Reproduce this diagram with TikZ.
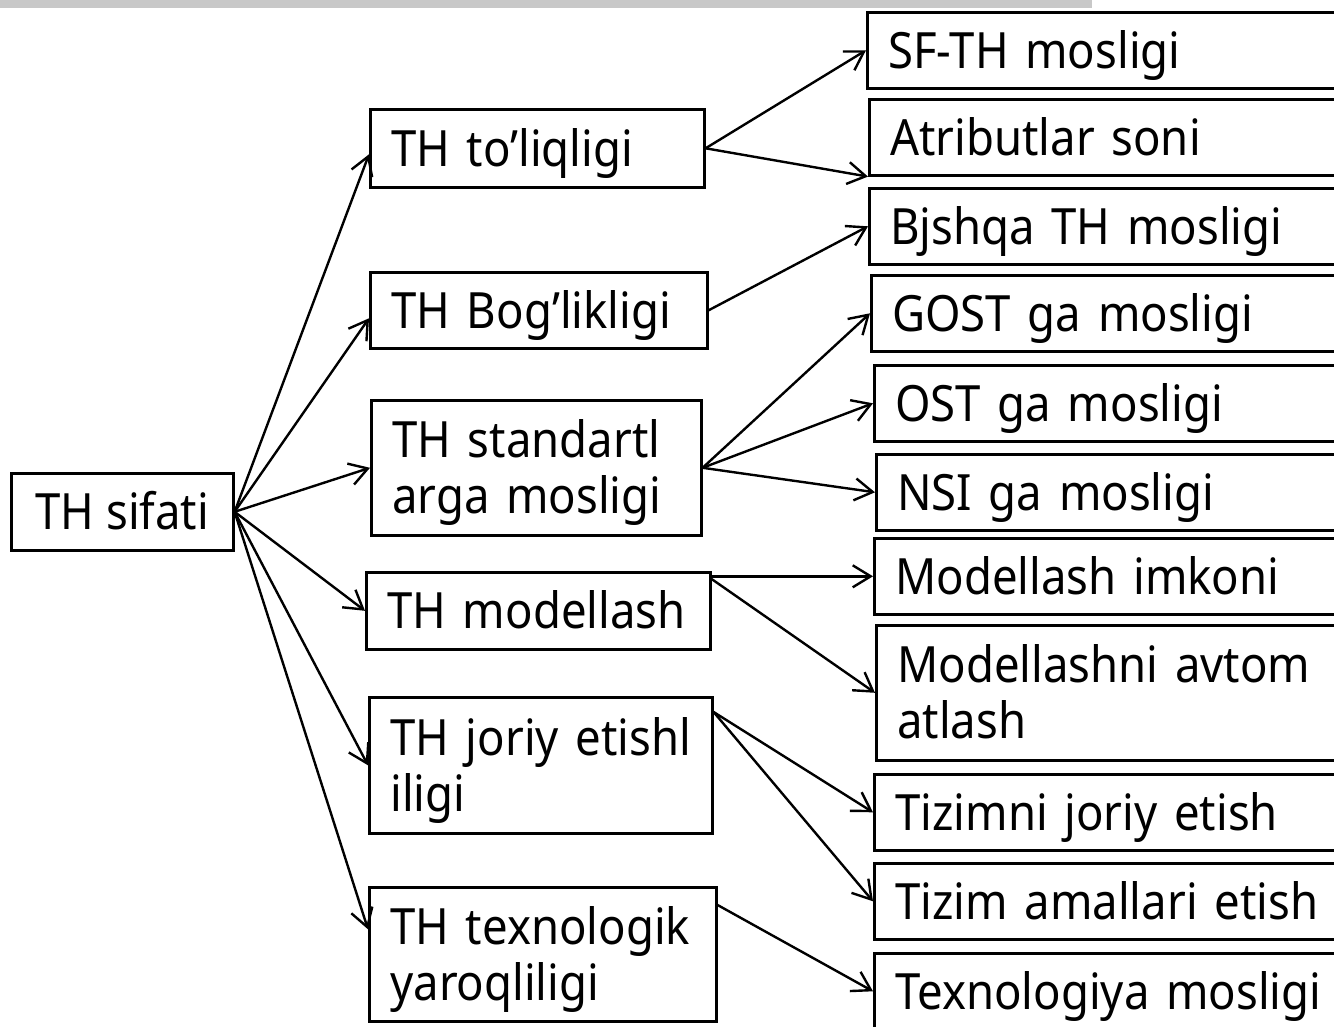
\documentclass[tikz,border=0pt]{standalone}
\usepackage{fontspec}
\setmainfont{Noto Sans}[FakeStretch=0.91]
\usetikzlibrary{positioning, arrows.meta}

\definecolor{bargray}{HTML}{C8C8C8}

\begin{document}
\begin{tikzpicture}[
        x=0.5pt, y=-0.5pt,
        font=\fontsize{25}{28}\selectfont,
        rootbox/.style={rectangle, draw=black, line width=1.3pt, anchor=north west, align=center, text height=18pt, text depth=0pt, minimum width=111pt, minimum height=38.5pt},
        midbox/.style={rectangle, draw=black, line width=1.3pt, anchor=north west, align=left, text height=18pt, text depth=0pt, inner xsep=10.5pt},
        leafbox/.style={rectangle, draw=black, line width=1.3pt, anchor=north west, align=left, text height=18pt, text depth=0pt, inner xsep=10.5pt, text width=215pt, minimum height=38pt},
        twoline/.style={text depth=28pt},
        arr/.style={-{Straight Barb[length=9pt, width=11pt]}, line width=1.2pt, black},
    ]
        \path[use as bounding box, clip] (0,0) rectangle (1334,1027);

        % Top bar
        \fill[bargray] (0,0) rectangle (1092,8);

        % Root
        \node[rootbox] (sifat) at (10,472) {TH sifati};

        % Middle column
        \node[midbox, text width=146pt, minimum height=39pt] (toliq) at (369,108) {TH to’liqligi};
        \node[midbox, text width=147.5pt, minimum height=38pt] (boglik) at (369,271) {TH Bog’likligi};
        \node[midbox, twoline, text width=144pt, minimum height=67.5pt] (standart) at (370,399) {TH standartl\\arga mosligi};
        \node[midbox, text width=151pt, minimum height=38.5pt] (model) at (365,571) {TH modellash};
        \node[midbox, twoline, text width=150.5pt, minimum height=68pt] (joriy) at (368,696) {TH joriy etishl\\iligi};
        \node[midbox, twoline, text width=152.5pt, minimum height=67pt] (texnol) at (368,886) {TH texnologik\\yaroqliligi};

        % Right column
        \node[leafbox] (sfth) at (866,11) {SF-TH mosligi};
        \node[leafbox] (atrib) at (868,98) {Atributlar soni};
        \node[leafbox] (boshqa) at (868,187) {Bjshqa TH mosligi};
        \node[leafbox] (gost) at (870,274) {GOST ga mosligi};
        \node[leafbox] (ost) at (873,364) {OST ga mosligi};
        \node[leafbox] (nsi) at (875,453) {NSI ga mosligi};
        \node[leafbox] (modimk) at (873,537) {Modellash imkoni};
        \node[leafbox, twoline, minimum height=67.5pt] (modavt) at (875,624) {Modellashni avtom\\atlash};
        \node[leafbox] (tizjor) at (873,773) {Tizimni joriy etish};
        \node[leafbox] (tizaml) at (873,862) {Tizim amallari etish};
        \node[leafbox] (texmos) at (873,952) {Texnologiya mosligi};

        % Arrows from root
        \draw[arr] (sifat.east) -- ([yshift=-3pt]toliq.west);
        \draw[arr] (sifat.east) -- ([yshift=-4pt]boglik.west);
        \draw[arr] (sifat.east) -- (standart.west);
        \draw[arr] (sifat.east) -- (model.west);
        \draw[arr] (sifat.east) -- (joriy.west);
        \draw[arr] (sifat.east) -- ([yshift=12.5pt]texnol.west);

        % Arrows to right column
        \draw[arr] (toliq.east) -- (sfth.west);
        \draw[arr] (toliq.east) -- (atrib.south west);
        \draw[arr] (boglik.east) -- (boshqa.west);
        \draw[arr] (standart.east) -- (gost.west);
        \draw[arr] (standart.east) -- (ost.west);
        \draw[arr] (standart.east) -- (nsi.west);
        \draw[arr] (model.north east |- modimk.west) -- (modimk.west);
        \draw[arr] ([yshift=-4pt]model.north east) -- (modavt.west);
        \draw[arr] ([yshift=-8pt]joriy.north east) -- (tizjor.west);
        \draw[arr] ([yshift=-8pt]joriy.north east) -- (tizaml.west);
        \draw[arr] ([yshift=-9.5pt]texnol.north east) -- (texmos.west);
    \end{tikzpicture}
\end{document}
